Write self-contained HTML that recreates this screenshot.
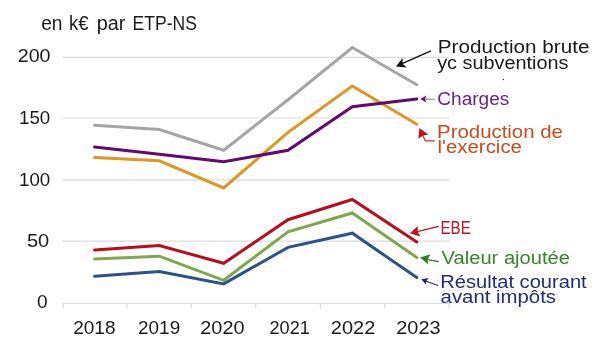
<!DOCTYPE html>
<html><head><meta charset="utf-8">
<style>
html,body{margin:0;padding:0;background:#fff;width:600px;height:358px;overflow:hidden}
svg{display:block;will-change:transform}
text{font-family:"Liberation Sans",sans-serif}
</style></head>
<body>
<svg width="600" height="358" viewBox="0 0 600 358" xmlns="http://www.w3.org/2000/svg">
<!-- gridlines -->
<g stroke="#dcdcdc" stroke-width="1.2" fill="none">
<line x1="63" y1="57.4" x2="449" y2="57.4"/>
<line x1="63" y1="118.0" x2="449" y2="118.0"/>
<line x1="63" y1="179.8" x2="449" y2="179.8"/>
<line x1="63" y1="241.2" x2="449" y2="241.2"/>
</g>
<!-- x axis -->
<g stroke="#dcdcdc" stroke-width="1.2" fill="none">
<line x1="63" y1="303.5" x2="449" y2="303.5"/>
<line x1="63.2" y1="303" x2="63.2" y2="308.5"/>
<line x1="127" y1="303" x2="127" y2="308.5"/>
<line x1="191.3" y1="303" x2="191.3" y2="308.5"/>
<line x1="255.7" y1="303" x2="255.7" y2="308.5"/>
<line x1="320.4" y1="303" x2="320.4" y2="308.5"/>
<line x1="384.7" y1="303" x2="384.7" y2="308.5"/>
<line x1="449" y1="303" x2="449" y2="308.5"/>
</g>
<!-- data lines -->
<g fill="none" stroke-width="3" stroke-linecap="round" stroke-linejoin="miter">
<polyline stroke="#a5a5a5" points="94.6,125.2 159.3,129.6 223.7,150.3 288,99.7 352.3,47.5 416.8,84.8"/>
<polyline stroke="#dc9820" points="94.6,157.6 159.3,160.8 223.7,187.9 288,132.4 352.3,86 416.8,124.3"/>
<polyline stroke="#600a72" points="94.6,147.1 159.3,154.3 223.7,161.8 288,150.3 352.3,106.7 416.8,98.9"/>
<polyline stroke="#b80e1c" points="94.6,250.1 159.3,245.5 223.7,263.3 288,219.7 352.3,199.5 416.8,242"/>
<polyline stroke="#7ea84c" points="94.6,258.9 159.3,256.2 223.7,280.3 288,231.8 352.3,213 416.8,257.5"/>
<polyline stroke="#2d528a" points="94.6,276.3 159.3,271.6 223.7,283.9 288,247.4 352.3,233.2 416.8,277.6"/>
</g>
<!-- arrows -->
<g stroke-width="1.3" fill="none">
<line x1="430.9" y1="50.9" x2="401" y2="64.2" stroke="#111"/>
<line x1="434.9" y1="99.2" x2="424.5" y2="99.1" stroke="#9b7aa2" stroke-width="1.1"/>
<polyline points="434.8,140.9 425.4,140.9 421.5,132.5" stroke="#c0392b"/>
<line x1="438.8" y1="226.4" x2="416" y2="231.8" stroke="#c0101e"/>
<line x1="438.9" y1="261.6" x2="426" y2="259.3" stroke="#2e7d28"/>
<line x1="438.1" y1="285.6" x2="425.5" y2="281" stroke="#1e2878" stroke-width="1.1"/>
</g>
<g stroke="none">
<path d="M396,66.6 L402.6,58 L402.6,63.8 L406.8,67.4 Z" fill="#111"/>
<path d="M420.3,99.0 L426.4,95.4 L425.0,99.0 L426.4,102.5 Z" fill="#62107a"/>
<path d="M419.4,128 L428.4,134.4 L423,135.4 L418.4,138.7 Z" fill="#c0101e"/>
<path d="M409.9,233.3 L417.9,225.9 L417.6,231.5 L420.4,236.4 Z" fill="#c0101e"/>
<path d="M420,257.5 L430.6,254.3 L427.5,259.5 L428.3,264.6 Z" fill="#2e7d28"/>
<path d="M421.3,279.3 L428.8,278.1 L426.2,280.9 L425.8,284.5 Z" fill="#1e2878"/>
</g>
<circle cx="503.4" cy="79.5" r="0.7" fill="#333"/>
<text x="41.21" y="29.60" font-size="19.6" fill="#1a1a1a" textLength="21.33" lengthAdjust="spacingAndGlyphs">en</text>
<text x="69.00" y="29.60" font-size="19.6" fill="#1a1a1a" textLength="19.61" lengthAdjust="spacingAndGlyphs">k€</text>
<text x="96.79" y="29.60" font-size="19.6" fill="#1a1a1a" textLength="28.62" lengthAdjust="spacingAndGlyphs">par</text>
<text x="132.61" y="29.60" font-size="19.6" fill="#1a1a1a" textLength="64.21" lengthAdjust="spacingAndGlyphs">ETP-NS</text>
<text x="17.71" y="62.40" font-size="19" fill="#1a1a1a" textLength="32.85" lengthAdjust="spacingAndGlyphs">200</text>
<text x="19.03" y="123.90" font-size="19" fill="#1a1a1a" textLength="31.19" lengthAdjust="spacingAndGlyphs">150</text>
<text x="19.03" y="185.50" font-size="19" fill="#1a1a1a" textLength="31.19" lengthAdjust="spacingAndGlyphs">100</text>
<text x="26.95" y="247.20" font-size="19" fill="#1a1a1a" textLength="22.28" lengthAdjust="spacingAndGlyphs">50</text>
<text x="36.93" y="308.20" font-size="19" fill="#1a1a1a" textLength="10.64" lengthAdjust="spacingAndGlyphs">0</text>
<text x="73.24" y="333.80" font-size="19" fill="#1a1a1a" textLength="42.23" lengthAdjust="spacingAndGlyphs">2018</text>
<text x="138.07" y="334.00" font-size="19" fill="#1a1a1a" textLength="42.12" lengthAdjust="spacingAndGlyphs">2019</text>
<text x="200.25" y="334.00" font-size="19" fill="#1a1a1a" textLength="44.28" lengthAdjust="spacingAndGlyphs">2020</text>
<text x="269.50" y="334.00" font-size="19" fill="#1a1a1a" textLength="40.30" lengthAdjust="spacingAndGlyphs">2021</text>
<text x="330.83" y="334.00" font-size="19" fill="#1a1a1a" textLength="44.50" lengthAdjust="spacingAndGlyphs">2022</text>
<text x="396.25" y="334.00" font-size="19" fill="#1a1a1a" textLength="44.36" lengthAdjust="spacingAndGlyphs">2023</text>
<text x="437.72" y="53.10" font-size="17.5" fill="#1a1a1a" textLength="151.72" lengthAdjust="spacingAndGlyphs">Production brute</text>
<text x="437.16" y="68.50" font-size="17.5" fill="#1a1a1a" textLength="131.40" lengthAdjust="spacingAndGlyphs">yc subventions</text>
<text x="437.28" y="104.70" font-size="17.5" fill="#6a2484" textLength="72.06" lengthAdjust="spacingAndGlyphs">Charges</text>
<text x="437.08" y="138.10" font-size="17.5" fill="#c94b20" textLength="125.82" lengthAdjust="spacingAndGlyphs">Production de</text>
<text x="437.47" y="153.40" font-size="17.5" fill="#c94b20" textLength="84.50" lengthAdjust="spacingAndGlyphs">l'exercice</text>
<text x="440.52" y="234.20" font-size="17.5" fill="#b81826" textLength="30.31" lengthAdjust="spacingAndGlyphs">EBE</text>
<text x="441.60" y="264.30" font-size="17.5" fill="#35852a" textLength="128.36" lengthAdjust="spacingAndGlyphs">Valeur ajoutée</text>
<text x="440.25" y="288.20" font-size="17.5" fill="#212b78" textLength="146.44" lengthAdjust="spacingAndGlyphs">Résultat courant</text>
<text x="440.59" y="303.10" font-size="17.5" fill="#212b78" textLength="115.40" lengthAdjust="spacingAndGlyphs">avant impôts</text>
</svg>
</body></html>
